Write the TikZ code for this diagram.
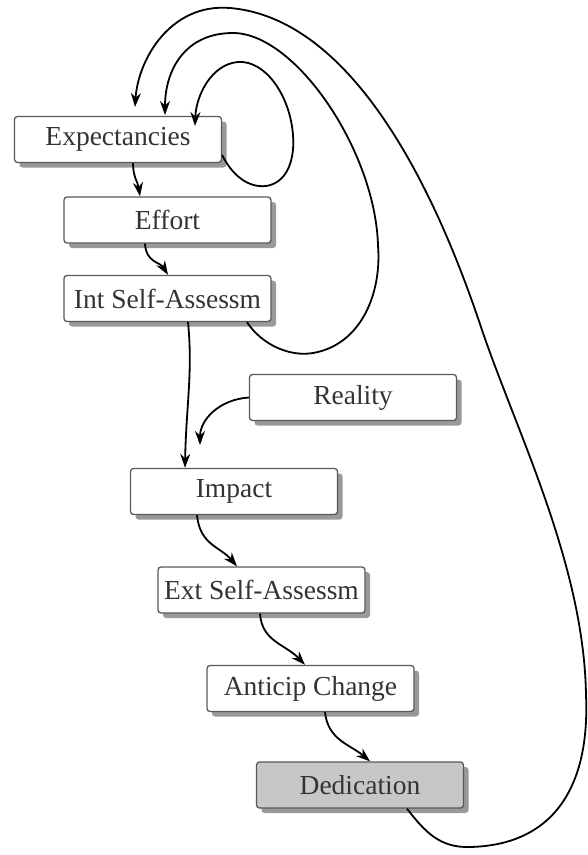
\documentclass[tikz,border=0pt]{standalone}
\usepackage{fontspec}
\setmainfont{Liberation Serif}
\usetikzlibrary{arrows.meta,shadows}
\begin{document}
\begin{tikzpicture}[x=1pt,y=-1pt,
  box/.style={draw=black!65, line width=1.3pt, rounded corners=3pt, fill=white,
    minimum width=207pt, minimum height=46pt, inner sep=0pt, text=black!80,
    font=\fontsize{27.5}{30}\selectfont,
    drop shadow={shadow xshift=5pt, shadow yshift=-5pt, fill=black!40, opacity=1}},
  arr/.style={line width=1.8pt, -{Stealth[length=14pt,width=10pt]}},
]
\useasboundingbox (0,0) rectangle (588,855);

\node[box] (exp) at (118,139.5) {Expectancies};
\node[box] (eff) at (167.5,220) {Effort};
\node[box] (isa) at (167.5,298.5) {Int Self-Assessm};
\node[box] (rea) at (353,397.5) {Reality};
\node[box] (imp) at (234,491.5) {Impact};
\node[box] (esa) at (261.5,590) {Ext Self-Assessm};
\node[box] (ant) at (310.5,688.5) {Anticip Change};
\node[box,fill=black!22] (ded) at (360,785) {Dedication};

\coordinate (rtip) at (200,445);
\coordinate (tipin) at (195,126);
\coordinate (tipmid) at (165,115);
\coordinate (tipout) at (135,107);

% chain
\draw[arr] ([xshift=15pt]exp.south) .. controls +(0,14) and +(-2,-14) .. ([xshift=-27.5pt]eff.north);
\draw[arr] ([xshift=-22.5pt]eff.south) .. controls +(1,19) and +(-8,-13) .. ([xshift=0.5pt]isa.north);
\draw[arr] ([xshift=20.5pt]isa.south) .. controls +(5,50) and +(1,-60) .. ([xshift=-49pt]imp.north);
\draw[arr] (rea.west) .. controls +(-30,2) and +(0,-25) .. (rtip);
\draw[arr] ([xshift=-37pt]imp.south) .. controls +(3,30) and +(-17,-20) .. ([xshift=-24.5pt]esa.north);
\draw[arr] ([xshift=-1.5pt]esa.south) .. controls +(2,28) and +(-20,-21) .. ([xshift=-5.5pt]ant.north);
\draw[arr] ([xshift=14.5pt]ant.south) .. controls +(3,28) and +(-20,-17) .. ([xshift=10pt]ded.north);

% inner self loop
\draw[arr] ([yshift=-15.5pt]exp.east) .. controls (232,175) and (248,188) .. (266,186)
  .. controls (287,183) and (295,160) .. (293,135)
  .. controls (290,95) and (265,60) .. (238,62)
  .. controls (212,64) and (196,95) .. (tipin);

% middle loop
\draw[arr] ([xshift=79.5pt]isa.south) .. controls (262,345) and (290,357) .. (313,353)
  .. controls (360,345) and (382,295) .. (378,245)
  .. controls (375,150) and (295,33) .. (233,33)
  .. controls (185,33) and (165,70) .. (tipmid);

% outer loop
\draw[arr] ([xshift=47pt]ded.south) .. controls (425,832) and (440,848) .. (470,847)
  .. controls (555,845) and (590,785) .. (586,695)
  .. controls (584,565) and (517,433) .. (482,330)
  .. controls (452,240) and (370,20) .. (230,8)
  .. controls (170,3) and (138,60) .. (tipout);
\end{tikzpicture}
\end{document}
